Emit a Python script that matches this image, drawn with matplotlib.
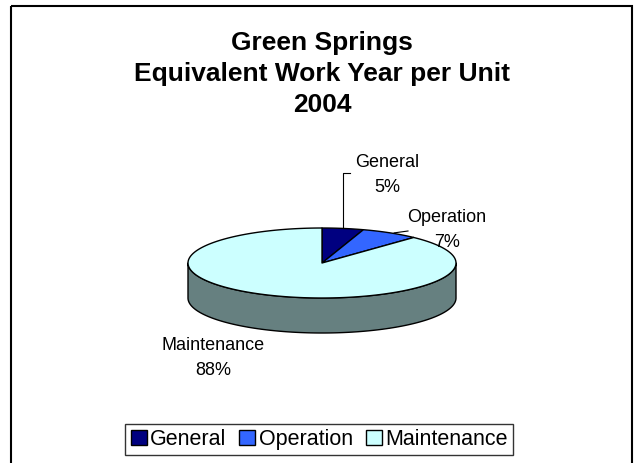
import numpy as np
import matplotlib.pyplot as plt
from matplotlib.patches import Polygon, Rectangle

categories = ['General', 'Operation', 'Maintenance']
values = [5, 7, 88]
title_lines = ['Green Springs', 'Equivalent Work Year per Unit', '2004']
top_colors = ['#000080', '#3366FF', '#CCFFFF']
side_colors = ['#000040', '#1A3380', '#668080']

plt.rcParams['font.family'] = ['Liberation Sans', 'DejaVu Sans']

W, H = 634, 463
fig = plt.figure(figsize=(W / 100, H / 100), dpi=100)
ax = fig.add_axes([0, 0, 1, 1])
ax.set_xlim(0, W)
ax.set_ylim(H, 0)
ax.axis('off')

# outer chart frame
ax.add_patch(Rectangle((11, 6), 621, 520, fill=False, edgecolor='black', lw=1.5))

# pie geometry
cx, cy, a, b, depth = 322, 263, 134, 35, 35


def pts(t0, t1, dy=0, n=200):
    t = np.radians(np.linspace(t0, t1, n))
    return np.column_stack([cx + a * np.cos(t), cy - b * np.sin(t) + dy])


total = float(sum(values))
fracs = np.array(values) / total
starts = 90 - np.concatenate([[0], np.cumsum(fracs)[:-1]]) * 360
ends = starts - fracs * 360

# side walls (front half only)
for s, e, sc in zip(starts, ends, side_colors):
    for k in (-1, 0, 1):
        lo = max(e, -180 + 360 * k)
        hi = min(s, 360 * k)
        if hi > lo:
            top = pts(hi, lo)
            bot = pts(lo, hi, dy=depth)
            ax.add_patch(Polygon(np.vstack([top, bot]), closed=True,
                                 facecolor=sc, edgecolor='black', lw=1.0,
                                 joinstyle='round'))

# top faces
for s, e, tc in zip(starts, ends, top_colors):
    poly = np.vstack([[cx, cy], pts(s, e)])
    ax.add_patch(Polygon(poly, closed=True, facecolor=tc, edgecolor='black',
                         lw=1.0, joinstyle='round'))

# labels
lab_fs = 13
mids = (starts + ends) / 2
label_pos = [(387, 175), (447, 230), (213, 358)]
for i, (cat, v) in enumerate(zip(categories, values)):
    ax.text(label_pos[i][0], label_pos[i][1], f"{cat}\n{v / total:.0%}",
            ha='center', va='center', fontsize=lab_fs, linespacing=1.65)

# leader lines
mx, my = pts(mids[0], mids[0], n=1)[0]
ax.plot([mx, mx, mx + 7], [my, 173, 173], color='black', lw=0.8)
mx, my = pts(mids[1], mids[1], n=1)[0]
ax.plot([mx + 4, 408], [my, 231], color='black', lw=0.8)

# title
ax.text(322, 74, "\n".join(title_lines), ha='center', va='center',
        fontsize=19, fontweight='bold', linespacing=1.38)

# legend
handles = [Rectangle((0, 0), 1, 1, facecolor=c, edgecolor='black', lw=1.0)
           for c in top_colors]
leg = ax.legend(handles, categories, ncol=3, loc='center',
                bbox_to_anchor=(319 / W, 1 - 439.5 / H), frameon=True,
                fancybox=False, edgecolor='black', fontsize=15.5,
                handlelength=0.75, handleheight=0.75, handletextpad=0.15,
                columnspacing=0.6, borderpad=0.25, borderaxespad=0)
leg.get_frame().set_linewidth(1.0)

fig.savefig('out.png', dpi=100)
